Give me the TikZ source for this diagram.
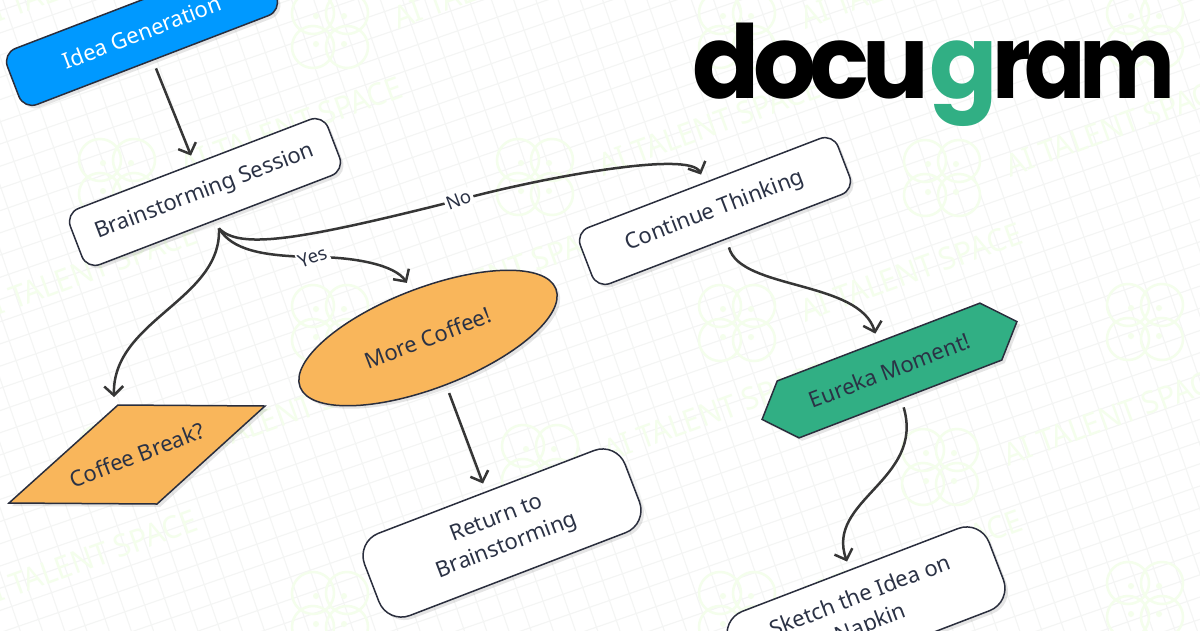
\documentclass[tikz,border=0pt]{standalone}
\usepackage{fontspec}
\setmainfont{Noto Sans}
\newfontfamily\logofont[LetterSpace=-7]{Poppins}
\usetikzlibrary{arrows.meta,shapes.geometric,shapes.symbols,shadows}
\definecolor{inkline}{HTML}{2A2E3D}
\definecolor{inktext}{HTML}{2B3245}
\definecolor{arrowline}{HTML}{363636}
\definecolor{ideablue}{HTML}{0099FF}
\definecolor{coffeeorange}{HTML}{F9B65B}
\definecolor{docugreen}{HTML}{31AF84}
\definecolor{gridgrey}{HTML}{F4F5F4}
\definecolor{markgreen}{HTML}{F4FEEC}
\tikzset{
    softshadow/.style={drop shadow={shadow xshift=3pt,shadow yshift=-3pt,opacity=.1,fill=black}},
    flownode/.style={draw=inkline,line width=1.5pt,text=inktext,inner sep=0pt,outer sep=9pt,rotate=21,softshadow,
        font=\fontsize{22}{29}\selectfont,align=center},
    flowbox/.style={flownode,rectangle,fill=white,rounded corners=14pt,minimum width=276pt,minimum height=60pt},
    tallbox/.style={flowbox,rounded corners=24pt,minimum width=279pt,minimum height=88pt},
    flowlabel/.style={fill=white,rotate=21,text=inktext,inner sep=2pt,font=\fontsize{18.5}{22}\selectfont},
    flowarrow/.style={->,draw=arrowline,line width=2.5pt},
    gridline/.style={draw=gridgrey,line width=1.1pt},
    logopart/.style={font=\logofont\fontsize{102}{102}\selectfont\bfseries,inner sep=0pt},
    talentmark/.pic={
        \draw[markgreen,line width=2.5pt] (-17,-17) circle (21) (17,-17) circle (21) (-17,17) circle (21) (17,17) circle (21);
        \fill[markgreen] (-14,-14) circle (3) (14,-14) circle (3) (-14,14) circle (3) (14,14) circle (3);
        \node[rotate=20,text=markgreen,font=\fontsize{31}{31}\selectfont,xscale=.95] (marktext) at (174,-51) {AI TALENT SPACE};
    }
}
\begin{document}
\begin{tikzpicture}[x=1pt,y=-1pt,>={Straight Barb[length=9pt,width=19pt]}]
    \clip (0,0) rectangle (1200,630);
    \fill[white] (0,0) rectangle (1200,630);

    \begin{scope}[shift={(600,315)},rotate=19]
        \foreach \gridstep in {-35,...,35} {
            \draw[gridline] (\gridstep*21,-900) -- (\gridstep*21,900);
            \draw[gridline] (-900,\gridstep*21) -- (900,\gridstep*21);
        }
    \end{scope}

    \foreach \markx/\marky in {117/177,330/30,535/177,737/30,942/178,1145/30,330/323,737/323,1145/322,117/463,540/463,940/467,330/610,737/610,1145/600,-88/30,-88/323,-88/610} {
        \pic at (\markx,\marky) {talentmark};
    }

    \node[flowbox,fill=ideablue,text=white] (idea) at (142,32) {Idea Generation};
    \node[flowbox] (brain) at (205,192) {Brainstorming Session};
    \node[flowbox] (thinking) at (715,211) {Continue Thinking};
    \node[flownode,ellipse,fill=coffeeorange,minimum width=274pt,minimum height=100pt] (more) at (428,338) {More Coffee!};
    \coordinate (breaktop) at (118,405);
    \draw[draw=inkline,line width=1.5pt,fill=coffeeorange,softshadow] (breaktop) -- (265,406) -- (157,504) -- (9,503) -- cycle;
    \node[rotate=21,text=inktext,font=\fontsize{22}{29}\selectfont] (break) at (137,455) {Coffee Break?};
    \node[tallbox] (return) at (502,533) {Return to\\Brainstorming};
    \node[flownode,fill=docugreen,signal,signal to=west and east,signal pointer angle=95,minimum width=273pt,minimum height=61pt] (eureka) at (889.5,370.5) {Eureka Moment!};
    \node[tallbox] (sketch) at (866,611) {Sketch the Idea on\\Napkin};

    \node[logopart,anchor=base east,xscale=.97] (logodocu) at (929,98) {docu};
    \node[logopart,anchor=base west,xscale=.99,text=docugreen] (logog) at (929,98) {g};
    \node[logopart,anchor=base west,xscale=.887] (logoram) at (992,98) {ram};

    \draw[flowarrow] (idea.south) -- (brain.north);
    \draw[flowarrow] (brain.south) .. controls (240,250) and (300,240) .. (459,200) node[flowlabel] (nolabel) {No} .. controls (540,178) and (690,150) .. (thinking.north);
    \draw[flowarrow] (brain.south) .. controls (232,250) and (262,256) .. (313,257) node[flowlabel] (yeslabel) {Yes} .. controls (355,257) and (395,265) .. (more.north);
    \draw[flowarrow] (brain.south) .. controls (222,300) and (112,320) .. ([shift={(-4,-8)}]breaktop);
    \draw[flowarrow] (more.south) -- (return.north);
    \draw[flowarrow] (thinking.south) .. controls (740,290) and (860,280) .. (eureka.north);
    \draw[flowarrow] (eureka.south) .. controls (925,480) and (825,500) .. (sketch.north);
\end{tikzpicture}
\end{document}
